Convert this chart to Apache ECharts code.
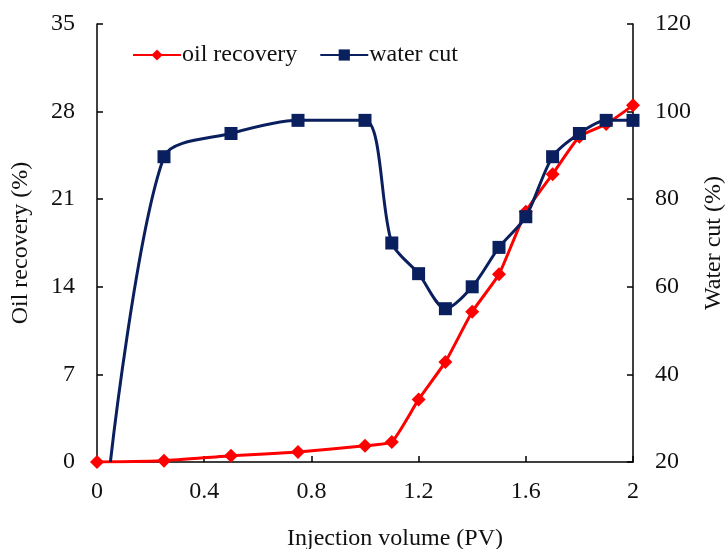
<!DOCTYPE html>
<html>
<head>
<meta charset="utf-8">
<script src="https://cdn.jsdelivr.net/npm/echarts@6/dist/echarts.min.js"></script>
<style>
  html, body { margin: 0; padding: 0; background: #fff; }
  #chart { width: 725px; height: 549px; }
</style>
</head>
<body>
<div id="chart"></div>
<script>
// Injection volume (PV) for each measurement
const oilX = [0, 0.25, 0.5, 0.75, 1.0, 1.1, 1.2, 1.3, 1.4, 1.5, 1.6, 1.7, 1.8, 1.9, 2.0];
// Cumulative oil recovery (%)
const oilRecovery = [0, 0.1, 0.5, 0.8, 1.3, 1.6, 5.0, 8.0, 12.0, 15.0, 20.0, 23.0, 26.0, 27.0, 28.5];

const waterX = [0.05, 0.25, 0.5, 0.75, 1.0, 1.1, 1.2, 1.3, 1.4, 1.5, 1.6, 1.7, 1.8, 1.9, 2.0];
// Water cut (%)
const waterCut = [20, 89.7, 95, 98, 98, 70, 63, 55, 60, 69, 76, 89.7, 95, 98, 98];

const xTicks = { min: 0, max: 2, interval: 0.4 };
const leftTicks = { min: 0, max: 35, interval: 7 };
const rightTicks = { min: 20, max: 120, interval: 20 };

const FONT = 'Liberation Serif';
const RED = '#ff0000';
const NAVY = '#0a1f5e';

const axisLine = { show: true, lineStyle: { color: '#000', width: 1.5 } };
const axisTick = { show: true, inside: true, length: 6, lineStyle: { color: '#000', width: 1.5 } };
const labelStyle = { color: '#111', fontFamily: FONT, fontSize: 24 };

const chart = echarts.init(document.getElementById('chart'), null, { renderer: 'canvas' });

chart.setOption({
  backgroundColor: '#fff',
  animation: false,
  grid: { left: 97, right: 92, top: 24, bottom: 87, containLabel: false, outerBoundsMode: 'none' },
  legend: {
    left: 127,
    top: 38,
    itemWidth: 48,
    itemHeight: 14,
    itemGap: 22,
    textStyle: { fontFamily: FONT, fontSize: 24, color: '#111', padding: [0, 0, 0, -4] },
    data: ['oil recovery', 'water cut']
  },
  xAxis: {
    type: 'value',
    min: xTicks.min, max: xTicks.max, interval: xTicks.interval,
    name: 'Injection volume (PV)',
    nameLocation: 'middle',
    nameGap: 65,
    nameTextStyle: { fontFamily: FONT, fontSize: 24, color: '#111', padding: [0, 0, 0, 60] },
    axisLine: axisLine,
    axisTick: axisTick,
    axisLabel: Object.assign({ margin: 18, formatter: v => String(+v.toFixed(1)) }, labelStyle),
    splitLine: { show: false }
  },
  yAxis: [
    {
      type: 'value',
      position: 'left',
      min: leftTicks.min, max: leftTicks.max, interval: leftTicks.interval,
      name: 'Oil recovery (%)',
      nameLocation: 'middle',
      nameGap: 64,
      nameTextStyle: { fontFamily: FONT, fontSize: 24, color: '#111' },
      axisLine: axisLine,
      axisTick: axisTick,
      axisLabel: Object.assign({ margin: 22 }, labelStyle),
      splitLine: { show: false }
    },
    {
      type: 'value',
      position: 'right',
      min: rightTicks.min, max: rightTicks.max, interval: rightTicks.interval,
      name: 'Water cut (%)',
      nameLocation: 'middle',
      nameGap: 66,
      nameRotate: 90,
      nameTextStyle: { fontFamily: FONT, fontSize: 24, color: '#111' },
      axisLine: axisLine,
      axisTick: axisTick,
      axisLabel: Object.assign({ margin: 22 }, labelStyle),
      splitLine: { show: false }
    }
  ],
  series: [
    {
      name: 'oil recovery',
      type: 'line',
      yAxisIndex: 0,
      smooth: 0.15,
      symbol: 'diamond',
      symbolSize: 14,
      color: RED,
      lineStyle: { color: RED, width: 3 },
      itemStyle: { color: RED },
      z: 2,
      data: oilX.map((x, i) => [x, oilRecovery[i]])
    },
    {
      name: 'water cut',
      type: 'line',
      yAxisIndex: 1,
      smooth: 0.28,
      symbol: 'rect',
      symbolSize: 13,
      color: NAVY,
      lineStyle: { color: NAVY, width: 3 },
      itemStyle: { color: NAVY },
      z: 3,
      data: waterX.map((x, i) => i === 0
        ? { value: [x, waterCut[i]], symbol: 'none' }
        : [x, waterCut[i]])
    }
  ]
});
</script>
</body>
</html>
